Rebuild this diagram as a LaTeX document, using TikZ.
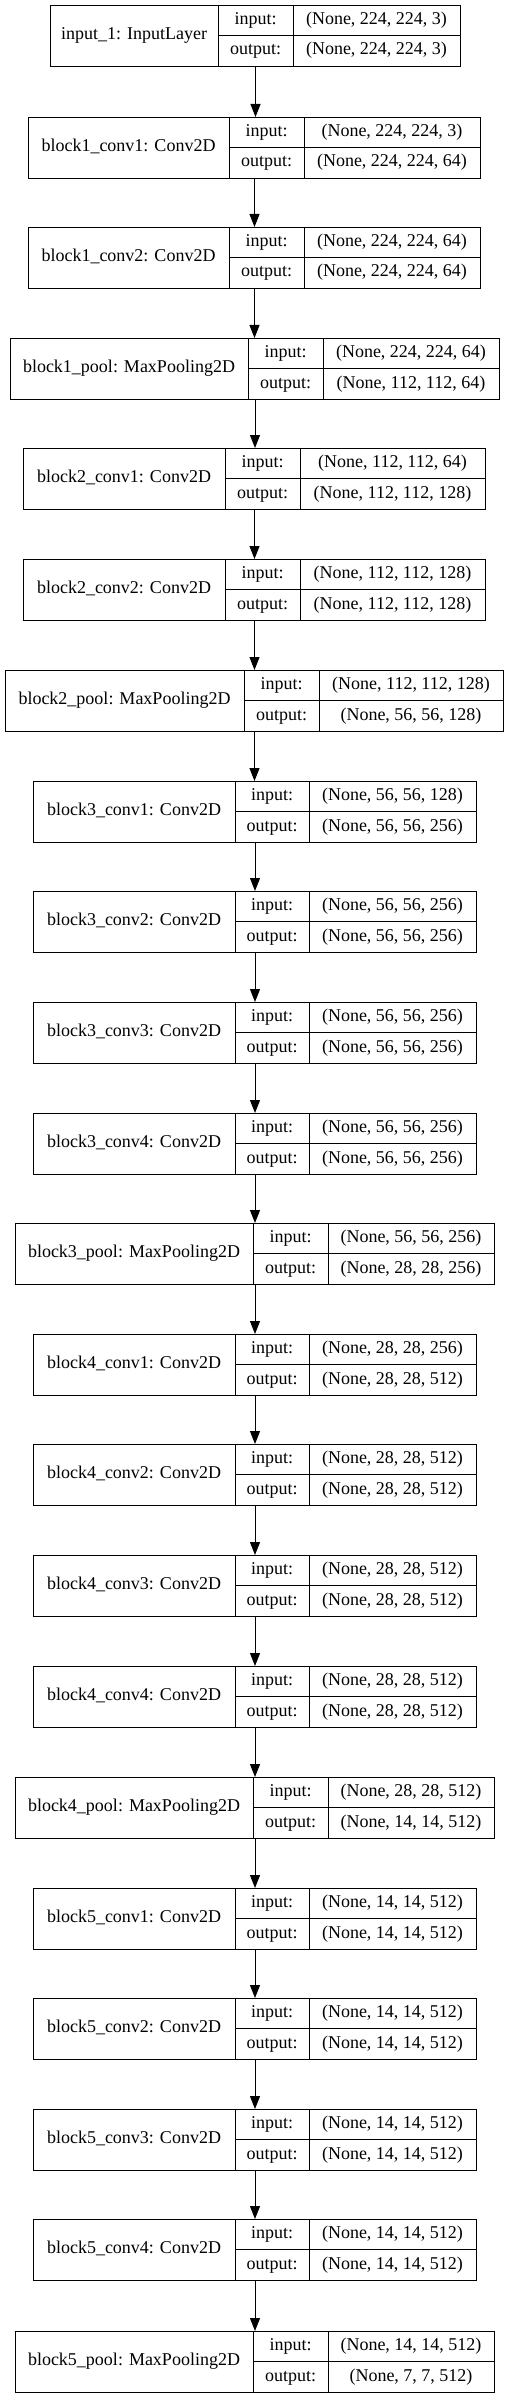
\documentclass[tikz,border=0pt]{standalone}
\usepackage{fontspec}
\setmainfont{Liberation Serif}
\usetikzlibrary{arrows.meta}

\begin{document}
\begin{tikzpicture}[x=1pt, y=-1pt, line width=1pt,
    every node/.style={font=\fontsize{18}{20}\selectfont, inner sep=0pt, text height=12pt, text depth=4pt},
    layerbox/.style={draw, anchor=north west, minimum height=61pt, text height=, text depth=},
    flow/.style={-{Triangle[length=13pt, width=10pt]}}]
    \useasboundingbox (0,0) rectangle (509,2397);

    % 画层
    \foreach \nm/\t/\xa/\xb/\xc/\xd/\lab/\inp/\outp in {
        input1/5/50/218/293/460/input\_1: InputLayer/{(None, 224, 224, 3)}/{(None, 224, 224, 3)},
        b1c1/117/28/229/304/480/block1\_conv1: Conv2D/{(None, 224, 224, 3)}/{(None, 224, 224, 64)},
        b1c2/227/28/229/304/480/block1\_conv2: Conv2D/{(None, 224, 224, 64)}/{(None, 224, 224, 64)},
        b1p/338/10/248/323/499/block1\_pool: MaxPooling2D/{(None, 224, 224, 64)}/{(None, 112, 112, 64)},
        b2c1/448/23/225/300/485/block2\_conv1: Conv2D/{(None, 112, 112, 64)}/{(None, 112, 112, 128)},
        b2c2/559/23/225/300/485/block2\_conv2: Conv2D/{(None, 112, 112, 128)}/{(None, 112, 112, 128)},
        b2p/670/5/244/319/503/block2\_pool: MaxPooling2D/{(None, 112, 112, 128)}/{(None, 56, 56, 128)},
        b3c1/781/33/235/309/476/block3\_conv1: Conv2D/{(None, 56, 56, 128)}/{(None, 56, 56, 256)},
        b3c2/891/33/235/309/476/block3\_conv2: Conv2D/{(None, 56, 56, 256)}/{(None, 56, 56, 256)},
        b3c3/1002/33/235/309/476/block3\_conv3: Conv2D/{(None, 56, 56, 256)}/{(None, 56, 56, 256)},
        b3c4/1113/33/235/309/476/block3\_conv4: Conv2D/{(None, 56, 56, 256)}/{(None, 56, 56, 256)},
        b3p/1223/15/253/328/494/block3\_pool: MaxPooling2D/{(None, 56, 56, 256)}/{(None, 28, 28, 256)},
        b4c1/1334/33/235/309/476/block4\_conv1: Conv2D/{(None, 28, 28, 256)}/{(None, 28, 28, 512)},
        b4c2/1444/33/235/309/476/block4\_conv2: Conv2D/{(None, 28, 28, 512)}/{(None, 28, 28, 512)},
        b4c3/1555/33/235/309/476/block4\_conv3: Conv2D/{(None, 28, 28, 512)}/{(None, 28, 28, 512)},
        b4c4/1666/33/235/309/476/block4\_conv4: Conv2D/{(None, 28, 28, 512)}/{(None, 28, 28, 512)},
        b4p/1777/15/253/328/494/block4\_pool: MaxPooling2D/{(None, 28, 28, 512)}/{(None, 14, 14, 512)},
        b5c1/1888/33/235/309/476/block5\_conv1: Conv2D/{(None, 14, 14, 512)}/{(None, 14, 14, 512)},
        b5c2/1998/33/235/309/476/block5\_conv2: Conv2D/{(None, 14, 14, 512)}/{(None, 14, 14, 512)},
        b5c3/2109/33/235/309/476/block5\_conv3: Conv2D/{(None, 14, 14, 512)}/{(None, 14, 14, 512)},
        b5c4/2219/33/235/309/476/block5\_conv4: Conv2D/{(None, 14, 14, 512)}/{(None, 14, 14, 512)},
        b5p/2331/15/253/328/494/block5\_pool: MaxPooling2D/{(None, 14, 14, 512)}/{(None, 7, 7, 512)}
    }{
        \node[layerbox, minimum width=\xd-\xa] (\nm) at (\xa,\t) {};
        \draw (\xb,\t) -- (\xb,\t+61);
        \draw (\xc,\t) -- (\xc,\t+61);
        \draw (\xb,\t+30.5) -- (\xd,\t+30.5);
        \node (\nm-lab) at ({(\xa+\xb)/2},\t+30.5) {\lab};
        \node (\nm-pi) at ({(\xb+\xc)/2},\t+15.5) {input:};
        \node (\nm-po) at ({(\xb+\xc)/2},\t+46) {output:};
        \node (\nm-si) at ({(\xc+\xd)/2},\t+15.5) {\inp};
        \node (\nm-so) at ({(\xc+\xd)/2},\t+46) {\outp};
    }

    % 画箭头
    \foreach \nm [remember=\nm as \prev (initially input1)] in
        {b1c1,b1c2,b1p,b2c1,b2c2,b2p,b3c1,b3c2,b3c3,b3c4,b3p,
         b4c1,b4c2,b4c3,b4c4,b4p,b5c1,b5c2,b5c3,b5c4,b5p}
        \draw[flow] (\prev.south) -- (\prev.south |- \nm.north);
\end{tikzpicture}
\end{document}
